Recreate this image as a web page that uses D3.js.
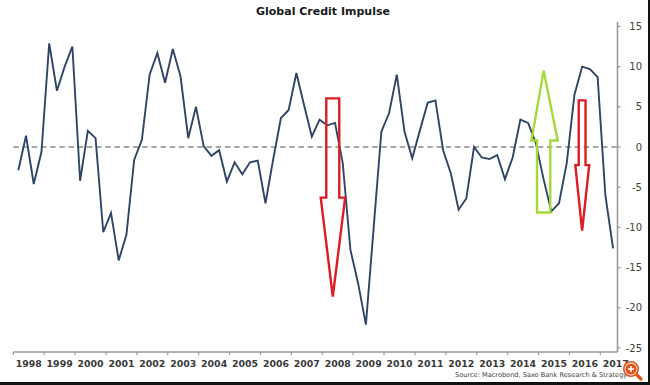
<!DOCTYPE html>
<html>
<head>
<meta charset="utf-8">
<script src="https://cdn.jsdelivr.net/npm/d3@7"></script>
<style>
  html, body { margin: 0; padding: 0; background: #fff; }
  svg { display: block; }
</style>
</head>
<body>
<svg id="chart" width="650" height="385"></svg>
<script>
// ── Data ──────────────────────────────────────────────────────────────────
// Global credit impulse, quarterly from 1998 Q1
const START_YEAR = 1998;
const impulse = [
  -2.9,  1.4, -4.6, -0.6,  12.9,  7.0, 10.0, 12.5,   // 1998-1999
  -4.2,  2.0,  1.1, -10.6, -8.2, -14.1, -10.9, -1.6, // 2000-2001
   0.9,  9.0, 11.7,  8.0,  12.2,  8.8,  1.1,  5.0,   // 2002-2003
   0.1, -1.1, -0.4, -4.3,  -1.9, -3.4, -1.9, -1.7,   // 2004-2005
  -7.0, -1.5,  3.6,  4.6,   9.2,  5.2,  1.3,  3.4,   // 2006-2007
   2.7,  3.0, -2.0, -12.8, -17.0, -22.1, -10.1, 1.9, // 2008-2009
   4.2,  9.0,  1.9, -1.4,   2.1,  5.5,  5.8, -0.4,   // 2010-2011
  -3.3, -7.8, -6.4,  0.0,  -1.3, -1.5, -1.0, -4.0,   // 2012-2013
  -1.3,  3.4,  3.0,  0.5,  -4.0, -8.0, -7.0, -2.0,   // 2014-2015
   6.5, 10.0,  9.7,  8.7,  -6.0, -12.6               // 2016-2017
];
const years  = d3.range(1998, 2018);
const yTicks = [15, 10, 5, 0, -5, -10, -15, -20, -25];

// Hand-drawn arrows, in data units (year, impulse)
const arrows = [
  { x0: 2008.13, x1: 2008.55, hx0: 2007.95, hx1: 2008.74, yStart: 6.05, yHead: -6.3,  yTip: -18.6, color: '#dd1c24' },
  { x0: 2014.95, x1: 2015.38, hx0: 2014.77, hx1: 2015.62, yStart: -8.15, yHead: 0.8,  yTip: 9.5,   color: '#a6d83c' },
  { x0: 2016.30, x1: 2016.52, hx0: 2016.19, hx1: 2016.64, yStart: 5.8,  yHead: -2.25, yTip: -10.4, color: '#dd1c24' }
];

const TITLE  = 'Global Credit Impulse';
const SOURCE = 'Source: Macrobond, Saxo Bank Research & Strategy';

// ── Layout ────────────────────────────────────────────────────────────────
const W = 650, H = 385;
const plot = { left: 13.3, right: 617.5, top: 22, bottom: 352 };
const FONT = 'DejaVu Sans, Verdana, sans-serif';

const x = d3.scaleLinear()
  .domain([1998, 2017.555])
  .range([plot.left, plot.right]);

const y = d3.scaleLinear()
  .domain([-25.5, 15.55])
  .range([plot.bottom, plot.top]);

const svg = d3.select('#chart');

// Title
svg.append('text')
  .attr('x', 323).attr('y', 14.5)
  .attr('text-anchor', 'middle')
  .attr('font-family', FONT)
  .attr('font-weight', 'bold')
  .attr('font-size', '11px')
  .attr('fill', '#1a1a1a')
  .text(TITLE);

// ── Zero line (dashed) ───────────────────────────────────────────────────
svg.append('line')
  .attr('x1', plot.left).attr('x2', plot.right)
  .attr('y1', y(0)).attr('y2', y(0))
  .attr('stroke', '#8a8a8a')
  .attr('stroke-width', 1.4)
  .attr('stroke-dasharray', '5.5 3.7');

// ── Series line ──────────────────────────────────────────────────────────
const line = d3.line()
  .x((d, i) => x(START_YEAR + 0.162 + i * 0.25))
  .y(d => y(d));

svg.append('path')
  .datum(impulse)
  .attr('fill', 'none')
  .attr('stroke', '#2f4566')
  .attr('stroke-width', 1.9)
  .attr('stroke-linejoin', 'miter')
  .attr('d', line);

// ── Arrows ───────────────────────────────────────────────────────────────
svg.append('g')
  .selectAll('path')
  .data(arrows)
  .join('path')
  .attr('fill', 'none')
  .attr('stroke', d => d.color)
  .attr('stroke-width', 2.4)
  .attr('stroke-linejoin', 'miter')
  .attr('d', d => {
    const pts = [
      [x(d.x0), y(d.yStart)], [x(d.x1), y(d.yStart)],
      [x(d.x1), y(d.yHead)], [x(d.hx1), y(d.yHead)],
      [(x(d.x0) + x(d.x1)) / 2, y(d.yTip)],
      [x(d.hx0), y(d.yHead)], [x(d.x0), y(d.yHead)]
    ];
    return 'M' + pts.join('L') + 'Z';
  });

// ── X axis (bottom) ──────────────────────────────────────────────────────
const xAxis = svg.append('g');

xAxis.append('line')
  .attr('x1', plot.left).attr('x2', plot.right)
  .attr('y1', plot.bottom).attr('y2', plot.bottom)
  .attr('stroke', '#9a9a9a')
  .attr('stroke-width', 1.6);

xAxis.selectAll('.xtick')
  .data(years)
  .join('line')
  .attr('class', 'xtick')
  .attr('x1', d => x(d)).attr('x2', d => x(d))
  .attr('y1', plot.bottom).attr('y2', plot.bottom + 3)
  .attr('stroke', '#9a9a9a')
  .attr('stroke-width', 1.2);

xAxis.selectAll('.xlabel')
  .data(years)
  .join('text')
  .attr('class', 'xlabel')
  .attr('x', d => x(d + 0.5))
  .attr('y', 366.5)
  .attr('text-anchor', 'middle')
  .attr('font-family', FONT)
  .attr('font-weight', 'bold')
  .attr('font-size', '9.4px')
  .attr('fill', '#3a3a3a')
  .text(d => d);

// ── Y axis (right) ───────────────────────────────────────────────────────
const yAxis = svg.append('g');

yAxis.append('line')
  .attr('x1', plot.right).attr('x2', plot.right)
  .attr('y1', plot.top).attr('y2', plot.bottom)
  .attr('stroke', '#9a9a9a')
  .attr('stroke-width', 1.6);

yAxis.selectAll('.ytick')
  .data(yTicks)
  .join('line')
  .attr('class', 'ytick')
  .attr('x1', plot.right).attr('x2', plot.right + 3)
  .attr('y1', d => y(d)).attr('y2', d => y(d))
  .attr('stroke', '#9a9a9a')
  .attr('stroke-width', 1.2);

yAxis.selectAll('.ylabel')
  .data(yTicks)
  .join('text')
  .attr('class', 'ylabel')
  .attr('x', 642)
  .attr('y', d => y(d))
  .attr('dy', '0.36em')
  .attr('text-anchor', 'end')
  .attr('font-family', FONT)
  .attr('font-size', '10px')
  .attr('fill', '#404040')
  .text(d => d);

// Source note
svg.append('text')
  .attr('x', 455).attr('y', 377)
  .attr('font-family', FONT)
  .attr('font-size', '6.6px')
  .attr('fill', '#404040')
  .text(SOURCE);

// ── Frame + zoom badge from the screenshot ───────────────────────────────
svg.append('rect').attr('x', 0).attr('y', 382).attr('width', W).attr('height', 3).attr('fill', '#111');
svg.append('rect').attr('x', 648).attr('y', 0).attr('width', 2).attr('height', H).attr('fill', '#111');

const badge = svg.append('g').attr('transform', 'translate(631,369)');
badge.append('line')
  .attr('x1', 4).attr('y1', 4).attr('x2', 10).attr('y2', 10)
  .attr('stroke', '#e4521e').attr('stroke-width', 3.2).attr('stroke-linecap', 'round');
badge.append('circle').attr('r', 7.2).attr('fill', '#fff').attr('stroke', '#e4521e').attr('stroke-width', 1.6);
badge.append('circle').attr('r', 5.6).attr('fill', '#e4521e');
badge.append('path')
  .attr('d', 'M-3,0H3M0,-3V3')
  .attr('stroke', '#fff').attr('stroke-width', 1.6);
</script>
</body>
</html>
